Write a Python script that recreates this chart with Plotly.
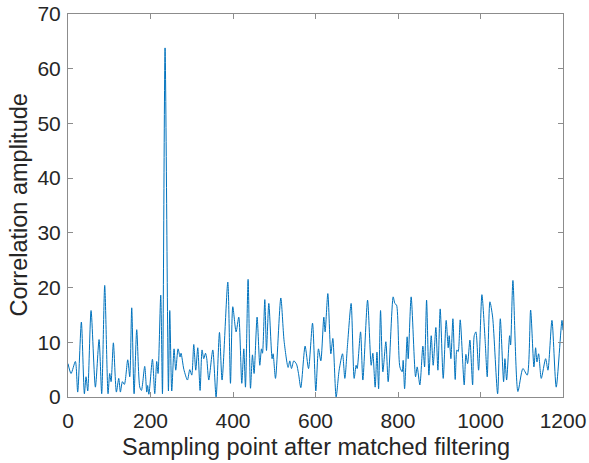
import plotly.graph_objects as go

# Sample positions (x) and correlation amplitude (y) (local peaks/troughs)
sample_x = [0, 7.4, 17.9, 23.5, 32.4, 39.7, 43.7, 47.8, 55.9, 66.4, 75.3, 81.7, 89, 97.1, 101.1, 104.4,
            110, 117.3, 123, 127, 131.9, 136.7, 144.8, 149.7, 154.5, 160.2, 166.6, 174, 178, 186, 190.9,
            193, 196, 204.7, 210.3, 215.1, 218.3, 224.8, 229, 235.3, 243.5, 246.7, 251.5, 257.1, 261.2,
            266.8, 271.7, 274, 281, 289.6, 295.2, 300, 304.9, 309.7, 314.6, 320.2, 325, 329.1, 333.3,
            336.4, 341.3, 351, 359, 367.2, 373.5, 387.4, 393.9, 399.5, 407.5, 414, 421.3, 426.2, 430.2,
            436.6, 442.4, 447.2, 451.1, 458.4, 465, 469, 471.5, 477.1, 481.2, 486.8, 494.8, 497.2, 503,
            515.9, 523.9, 533.6, 537.7, 541.8, 547.4, 554, 558.8, 564.4, 574.8, 583.1, 592.8, 600.8,
            607.2, 612.9, 620.2, 623.3, 629.9, 637.2, 642, 650, 657.3, 665.5, 671.1, 677.7, 686.4, 693.7,
            698.5, 701, 709.2, 714.8, 726.2, 735, 739, 744.6, 749, 753, 757.7, 763.3, 770.6, 776.2, 788.3,
            792.4, 796.5, 804.5, 810.1, 812.5, 816, 822.2, 824.7, 831.9, 842.6, 846.5, 853, 860.3, 864.4,
            869.3, 874.9, 880.5, 885.3, 891.8, 896.7, 902.3, 909.6, 916.8, 921.7, 924.1, 928.2, 933.1,
            938.7, 942.8, 945.9, 950.8, 960.5, 964.6, 968.7, 974.3, 980.9, 984.8, 988.9, 995.4, 1003.4,
            1011.4, 1016.3, 1022.8, 1029.4, 1041.5, 1048, 1056, 1059.2, 1063.3, 1070.6, 1073, 1078.6,
            1090.7, 1102.8, 1113.3, 1121.5, 1129.5, 1133.6, 1136.9, 1140.9, 1147.3, 1157.9, 1163.5,
            1173.2, 1183.6, 1197.5, 1200]
amplitude = [6.1, 4.3, 6.5, 0.9, 13.7, 0.6, 3.7, 1.1, 15.8, 1.8, 10.5, 0.6, 20.4, 0.6, 4.3, 2.8,
             9.9, 0.9, 3.4, 0.9, 2.8, 2.3, 6.8, 3.7, 16.3, 0.6, 12.3, 1.8, 1.2, 5.6, 0.9,
             2.1, 0.5, 6.9, 0.6, 6.5, 4.3, 18.6, 0.6, 63.8, 1.1, 15.8, 1.1, 8.8, 4.9,
             8.8, 7.3, 8.0, 5.0, 3.1, 5.0, 4.0, 9.6, 4.9, 9.0, 1.2, 8.6, 7.0, 8.0,
             7.0, 3.1, 8.6, 0.0, 11.8, 3.1, 21.0, 2.5, 16.5, 11.9, 14.6, 2.5, 8.8, 1.8,
             21.5, 1.6, 7.7, 4.3, 14.6, 5.8, 8.8, 8.0, 17.8, 8.5, 17.1, 7.0, 7.9, 3.4,
             18.1, 10.2, 5.4, 6.6, 5.2, 6.6, 6.0, 4.3, 1.7, 9.3, 5.2, 13.5, 1.1,
             8.8, 6.6, 14.6, 11.9, 18.9, 7.9, 10.7, 0.0, 4.9, 7.9, 3.4, 9.6, 17.1, 3.4,
             5.8, 5.2, 11.9, 3.1, 17.7, 5.8, 8.0, 1.8, 8.2, 1.5, 15.8, 4.6, 10.1, 2.8, 18.3,
             17.1, 16.8, 5.5, 4.6, 6.7, 1.5, 11.0, 7.0, 18.3, 3.7, 5.5, 2.2, 9.3, 5.5,
             17.7, 4.0, 11.2, 5.8, 12.7, 4.9, 16.1, 3.4, 14.0, 9.0, 11.2, 7.0, 14.3,
             3.2, 8.6, 8.3, 14.1, 2.2, 7.8, 6.1, 10.4, 2.2, 11.2, 11.9, 4.9, 18.7,
             10.1, 3.7, 17.4, 14.6, 0.6, 14.3, 2.8, 7.0, 3.1, 11.2, 9.5, 21.3,
             1.0, 5.2, 4.0, 15.9, 5.5, 9.0, 6.4, 7.9, 3.4, 7.0, 4.9,
             14.0, 1.8, 14.0, 12.2]

x_ticks = [0, 200, 400, 600, 800, 1000, 1200]
y_ticks = [0, 10, 20, 30, 40, 50, 60, 70]
x_title = "Sampling point after matched filtering"
y_title = "Correlation amplitude"

FONT = "Liberation Sans, Arial, sans-serif"

fig = go.Figure()
fig.add_trace(go.Scatter(x=sample_x, y=amplitude, mode="lines",
                         line=dict(color="#0072BD", width=1, shape="spline", smoothing=0.7),
                         showlegend=False, hoverinfo="skip"))

axis_common = dict(showgrid=False, zeroline=False, showline=True, linecolor="#8c8c8c", linewidth=1,
                   mirror="allticks", ticks="inside", ticklen=5, tickcolor="#8c8c8c", automargin=False,
                   tickfont=dict(family=FONT, size=21, color="#262626"))

fig.update_layout(
    width=589, height=463,
    margin=dict(l=68, r=26, t=14, b=66),
    paper_bgcolor="white", plot_bgcolor="white",
    font=dict(family=FONT, color="#262626"),
    xaxis=dict(range=[0, 1200], tickvals=x_ticks, ticktext=[str(v) for v in x_ticks],
               ticklabelstandoff=5, **axis_common),
    yaxis=dict(range=[0, 70], tickvals=y_ticks, ticktext=[str(v) for v in y_ticks],
               ticklabelstandoff=2, **axis_common),
    annotations=[
        dict(text=x_title, xref="paper", yref="paper", x=0.5, y=-0.1305,
             xanchor="center", yanchor="middle", showarrow=False,
             font=dict(family=FONT, size=23.5, color="#262626")),
        dict(text=y_title, xref="paper", yref="paper", x=-0.101, y=0.5, textangle=-90,
             xanchor="center", yanchor="middle", showarrow=False,
             font=dict(family=FONT, size=23.5, color="#262626")),
    ],
)

fig.write_html("out.html")
